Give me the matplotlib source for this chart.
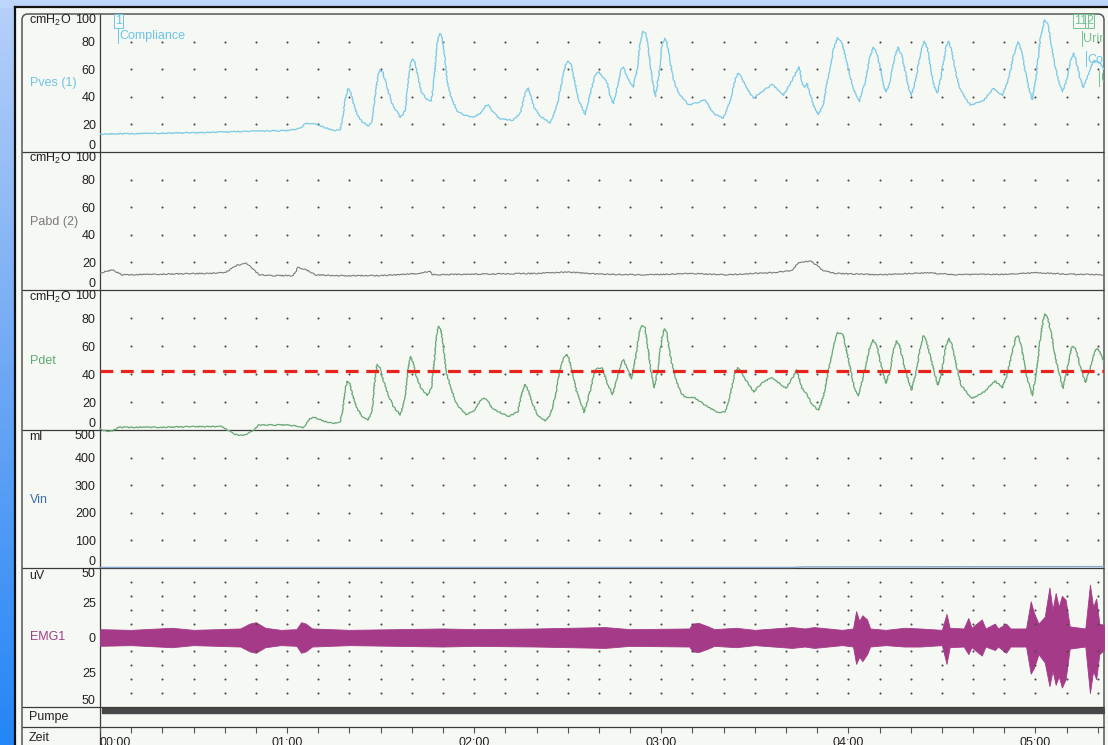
import numpy as np
import matplotlib.pyplot as plt
from matplotlib.colors import LinearSegmentedColormap
from matplotlib.patches import FancyBboxPatch

plt.rcParams['font.family'] = ['Liberation Sans', 'DejaVu Sans']
plt.rcParams['font.size'] = 9

# ---- recording, time in seconds ----
t_end = 322

pves_t = [0, 16, 32, 48, 60, 64, 66, 67.4, 69, 70.6, 74.8, 77, 77.8, 78.6, 79.6, 80.3, 81.2, 82.5, 84, 86,
          87.2, 88.2, 89.2, 89.9, 90.7, 92, 93.5, 96.3, 97.9, 98.9, 99.6, 100.2, 101, 102, 103, 104.9,
          106.3, 107.2, 108.1, 108.8, 109.6, 110.5, 111.5, 112.5, 114.5, 116.5, 119.7, 121.9, 123.5,
          124.5, 126, 128.3, 132.5, 134.8, 136.3, 137.3, 138.2, 139.3, 141.2, 144.4, 146.5, 148.2,
          149.4, 150.2, 151, 152.2, 153.5, 155.6, 157.2, 158.5, 159.8, 161, 162.7, 163.7, 164.6, 166,
          167.2, 167.9, 169, 171, 172.3, 173.3, 174.2, 175.1, 176, 177, 178.1, 179.2, 180.2, 181,
          181.8, 182.8, 184, 185.5, 188.7, 191.9, 194.1, 196.7, 199.9, 202.2, 203.8, 204.7, 205.7,
          207, 209.5, 211.8, 215.6, 219.1, 221.5, 223.3, 224.3, 225.2, 225.9, 226.8, 227.8, 228.8,
          230.4, 232, 233.6, 235.3, 236.5, 237.8, 238.8, 240, 241.8, 243.5, 245.3, 246.8, 248, 249.1,
          250.3, 251.3, 252.2, 253.4, 255, 256, 257.1, 258.3, 259.3, 260.2, 261.6, 263.2, 264.4,
          265.4, 266.3, 267.5, 268.6, 269.8, 271.2, 272.1, 273.1, 274.3, 275.5, 276.6, 279.1, 283.3,
          286.5, 289.4, 291.3, 293, 294.5, 295.6, 296.8, 298, 299, 300.2, 301.6, 302.9, 303.9, 305,
          306.3, 307.6, 308.7, 310, 311.3, 312.2, 313.1, 314.2, 315.4, 317.3, 318.6, 320.9, 321.8]
pves = [13, 13.5, 14, 15, 15.5, 17, 20.5, 21, 20.5, 19, 15.5, 16, 24, 38, 45.8, 44, 36, 27, 22, 19,
        22, 40, 56, 59.7, 57.5, 48, 36, 25, 30, 52, 64, 67.4, 65, 54, 44, 38,
        37, 55, 78, 86, 84, 70, 50, 40, 30, 27, 25, 28, 33,
        34.4, 29, 24, 23, 28, 42, 46.5, 40, 32, 26, 21, 33, 52,
        63, 65.7, 63.5, 52, 38, 27, 42, 54, 58.5, 55, 50, 40, 35, 48,
        60, 61.6, 55, 47, 60, 80, 87.4, 86, 72, 55, 40, 55, 76, 82.6,
        80, 66, 52, 43, 34, 36, 38, 28, 24.3, 38, 53, 57.3, 54,
        48, 39, 43, 49, 41, 50, 58, 61.6, 50, 47, 49.5, 42, 34,
        27, 35, 55, 75, 82.8, 80.5, 72, 60, 45, 36.4, 50, 68, 76, 72,
        60, 48, 43.6, 52, 70, 76, 70, 58, 47, 41, 52, 72, 80.4,
        75, 62, 48, 42.9, 55, 75, 80.4, 74, 60, 48, 42.6, 34, 37,
        46, 41, 52, 70, 79.7, 72, 58, 45, 38, 55, 82, 95.8, 93, 80,
        62, 50, 43.6, 52, 66, 71.8, 66, 54, 46.7, 58, 66.4, 64, 60]

pabd_t = [0, 4, 7, 20, 35, 40, 44, 47, 51, 55, 62, 63.5, 66, 69, 75, 90, 95, 102, 106, 106.5, 120,
          140, 150, 160, 175, 190, 200, 215, 222, 224, 228, 232, 236, 250, 265, 275, 290, 300, 310, 322]
pabd = [12.3, 14.7, 11, 11.5, 12, 12.5, 18, 19.3, 11, 10.4, 10.4, 16.4, 15, 11, 10.4, 10.4, 11, 12,
        13.6, 11, 11.5, 12, 13, 11.5, 11, 12, 11, 12.5, 14, 20, 21, 14, 12, 11, 12.5, 11, 11.5, 12.5,
        11.5, 11]

pdet_t = [0, 2, 4, 6, 20, 30, 39, 41, 43, 46, 48, 49.5, 51, 60, 64, 65, 67, 68.3, 70, 72, 74.8, 77,
          77.8, 78.6, 79.3, 80.1, 81, 82.3, 84, 86, 87.3, 88.2, 88.9, 89.7, 90.8, 92.3, 94, 96.3,
          97.8, 98.8, 99.5, 100.3, 101.5, 103, 104.9, 106.3, 107.3, 108, 108.6, 109.3, 110.2, 111.2,
          112.5, 114.5, 117.4, 120, 122, 123.2, 124.5, 126, 131, 134, 135.4, 136.4, 137.4, 138.5,
          140.5, 142.8, 144.4, 146, 147.6, 148.8, 149.5, 150.3, 151.5, 152.8, 155.3, 157.2, 158.5,
          159.3, 161, 162.8, 164.4, 166, 167.3, 167.9, 169, 170.4, 171.8, 173, 173.9, 174.8, 175.8,
          176.8, 177.8, 179, 180.2, 181, 181.8, 183, 184.5, 186, 187.4, 190.8, 194.8, 198.3, 200.5,
          202, 203.6, 204.5, 205.5, 206.8, 209.7, 212, 215.3, 217.5, 220, 222, 223.4, 224.4, 225.2,
          226.9, 228.5, 230.4, 232, 233.6, 235.4, 236.6, 238.4, 239.5, 240.8, 242, 243.2, 244.6,
          246.6, 248, 249.2, 250.5, 252, 253.3, 254.6, 255.5, 256.5, 258.3, 260.3, 261.8, 263.2,
          264.1, 265, 266.8, 268.7, 270, 271.3, 272.2, 273.2, 274.8, 276.2, 279.6, 283.6, 287.1,
          289.4, 291, 292.6, 293.7, 294.3, 295.3, 297, 299, 300.2, 301.6, 302.5, 303.1, 304, 305.3,
          306.8, 308.8, 310.3, 311.5, 311.9, 313, 314.4, 316, 317.6, 319, 319.7, 320.6, 321.8]
pdet = [1, -1, -0.5, 2, 2, 2.4, 2.4, 0, -3, -4, -2, 0, 3.6, 3.6, 2.5, 1.2, 7.5, 9.2, 8, 6, 4.8, 5.5,
        14, 28, 35, 33, 25, 16, 10, 7.2, 14, 37, 47, 45, 36, 26, 17, 10.8,
        22, 43, 52.5, 49, 38, 30, 24.6, 30, 52, 69, 74, 72, 58, 40,
        30, 18, 10.8, 14, 21, 23, 20, 15, 9.6, 13, 27, 32.5, 28, 20,
        10, 6.7, 10.5, 24, 43, 52, 54.1, 52, 42, 28, 12.5, 28, 40,
        44, 44.5, 33, 25.4, 38, 49, 50.5, 44, 36.4, 52, 70, 74.5, 73, 58,
        40, 30.2, 45, 66, 72.3, 69, 52, 36.9, 28, 23.7, 23, 16.5, 12.5, 13,
        24, 40, 44.5, 42, 36.9, 27.3, 33, 37.4, 34, 29.7, 37, 42.9, 36, 29.7,
        24.9, 18, 14, 24, 42, 62, 69.7, 68, 56, 42, 30, 24.4, 36,
        57, 64.4, 60, 46, 33.3, 42, 58, 63.7, 60, 42, 28.5, 42, 60,
        67.3, 64, 48, 32.1, 42, 60, 65.6, 61, 45, 32, 22.5, 27.3, 35,
        30.2, 40, 56, 66, 67.5, 62, 40, 24.4, 40, 66, 78, 82.9, 80, 66,
        48, 29.7, 45, 58, 59.6, 58, 45, 34, 44, 56, 58.4, 56, 48.9]
pdet_limit = 42

vin_t = [0, 222, 226, 322]
vin = [2, 2, 4, 5]

# EMG envelope (uV)
emg_t = [0, 10, 23, 30, 45, 48, 50, 53, 58, 63, 64.5, 66, 68, 80, 110, 120, 140, 162, 170, 189, 190,
         192, 195, 197, 204, 210, 222, 226, 229, 238, 241.5, 242.5, 243.5, 244.5, 246, 247, 252, 258,
         263, 270, 271.5, 272.5, 277, 278.5, 279.5, 282.8, 284, 287, 288, 290.6, 292, 297, 298.5,
         299.5, 301, 303, 304.5, 305.5, 306.5, 307.5, 308.5, 309.7, 311, 316, 317.5, 318.5, 319.5,
         320.5, 322]
emg_hi = [6, 5.5, 7, 5.5, 6.5, 10, 11, 7, 5.5, 6, 11, 10, 6.5, 5.5, 6.5, 6, 6.5, 7.5, 6, 6.5, 10,
          10.5, 8, 6, 7, 5.5, 7.5, 6.5, 7.5, 5.5, 6.5, 19, 12, 16, 13, 6.5, 5.5, 7,
          6.5, 5.5, 17, 7, 6.5, 14, 7, 13, 6.5, 10, 6.5, 10, 6.5, 6.5, 26,
          18, 10, 15, 36, 20, 32, 22, 30, 27, 8, 6.5, 38, 22, 28,
          10, 9]
emg_lo = [-6, -5.5, -7, -5.5, -6.5, -10, -11, -7, -5.5, -6, -11, -10, -6.5, -5.5, -6.5, -6, -6.5, -7.5,
          -6, -6.5, -10, -10.5, -8, -6, -7, -5.5, -7.5, -6.5, -7.5, -5.5, -6.5, -19, -14, -17, -12,
          -6.5, -5.5, -6.5, -6.5, -5.5, -19, -7, -6.5, -12, -7, -13, -6.5, -9, -6.5, -11, -6.5, -6.5,
          -26, -22, -12, -18, -35, -24, -34, -28, -36, -30, -8, -6.5, -40, -24, -30,
          -12, -9]

pump_on = [(0.5, 321.5)]

# event markers and their notes
mark_t = [5.8, 314.6, 317.3]
mark_id = ['1', '11', '2']
mark_col = ['#6cc4e4', '#76c094', '#76c094']
note_t = [5.8, 314.8, 316.3, 320.5]
note_row = [84, 82, 67, 53]
note_txt = ['Compliance', 'Urinfluss', 'Compliance', 'Urinfluss']
note_col = ['#6cc4e4', '#76c094', '#6cc4e4', '#76c094']

minutes = [0, 60, 120, 180, 240, 300]
minute_lbl = ['00:00', '01:00', '02:00', '03:00', '04:00', '05:00']

# ---- page layout in pixels ----
W, H = 1108, 745
X0, X1 = 100, 1104
fig = plt.figure(figsize=(W / 100, H / 100), dpi=100)

bg = fig.add_axes([0, 0, 1, 1])
bg.set_xlim(0, W)
bg.set_ylim(H, 0)
bg.axis('off')

blues = LinearSegmentedColormap.from_list('side', ['#b7d0f9', '#6ea8f4', '#2486f7'])
bg.imshow(np.linspace(0, 1, 200).reshape(-1, 1), cmap=blues, aspect='auto',
          extent=(0, 16, H, 0), zorder=0)
bg.add_patch(plt.Rectangle((0, 0), W, 7, color='#bdd5fb', zorder=0))
bg.add_patch(plt.Rectangle((15, 7), W, H, color='#f6f8f4', zorder=1))
bg.plot([15, W], [7, 7], color='#111', lw=1.6, zorder=2)
bg.plot([15, 15], [7, H], color='#111', lw=1.6, zorder=2)
bg.add_patch(FancyBboxPatch((22, 14), X1 - 22, 760, boxstyle='round,pad=0,rounding_size=6',
                            fc='none', ec='#555', lw=1.1, zorder=3))
bg.hlines([152, 290, 430, 568, 707, 727], 22, X1, color='#3a3a3a', lw=0.9, zorder=3)
bg.vlines(X0, 14, H, color='#3a3a3a', lw=0.9, zorder=3)

unit_kw = dict(ha='left', va='center', color='#222', zorder=4)
bg.text(29, 20, r'cmH$_\mathregular{2}$O', **unit_kw)
bg.text(29, 158, r'cmH$_\mathregular{2}$O', **unit_kw)
bg.text(29, 297, r'cmH$_\mathregular{2}$O', **unit_kw)
bg.text(29, 437, 'ml', **unit_kw)
bg.text(29, 576, 'uV', **unit_kw)
bg.text(29, 717, 'Pumpe', **unit_kw)
bg.text(29, 738, 'Zeit', **unit_kw)
bg.text(30, 83, 'Pves (1)', ha='left', va='center', color='#6cc4e4')
bg.text(30, 222, 'Pabd (2)', ha='left', va='center', color='#7a7a7a')
bg.text(30, 361, 'Pdet', ha='left', va='center', color='#5fa972')
bg.text(30, 500, 'Vin', ha='left', va='center', color='#3b6ea8')
bg.text(30, 637, 'EMG1', ha='left', va='center', color='#a13d86')


def panel(top, bottom, ylim, ticks, labels):
    ax = fig.add_axes([X0 / W, 1 - bottom / H, (X1 - X0) / W, (bottom - top) / H])
    ax.set_facecolor('none')
    for s in ax.spines.values():
        s.set_visible(False)
    ax.set_xlim(0, t_end)
    ax.set_ylim(*ylim)
    ax.set_xticks([])
    ax.set_yticks(ticks, labels)
    ax.tick_params(axis='y', length=0, pad=3, labelsize=9, labelcolor='#222')
    tl = ax.get_yticklabels()
    tl[0].set_va('bottom')
    tl[-1].set_va('top')
    return ax


def dots(ax, levels):
    tt, yy = np.meshgrid(np.arange(10, t_end, 10), levels)
    ax.plot(tt.ravel(), yy.ravel(), ls='none', marker='o', ms=1.5, mew=0, color='#4a4a4a')


press_ticks = [0, 20, 40, 60, 80, 100]
press_lbls = [str(v) for v in press_ticks]

ax1 = panel(14, 152, (0, 100), press_ticks, press_lbls)
dots(ax1, [20, 40, 60, 80])
ln, = ax1.plot(pves_t, pves, color='#7ccae7', lw=0.9)
ln.set_sketch_params(0.5, 3, 6)
for t, lab, c in zip(mark_t, mark_id, mark_col):
    ax1.text(t, 99, lab, ha='center', va='top', color=c, fontsize=9, clip_on=True,
             bbox=dict(boxstyle='square,pad=0.08', fc='none', ec=c, lw=0.7))
for t, row, txt, c in zip(note_t, note_row, note_txt, note_col):
    ax1.plot([t, t], [row - 5, row + 6], color=c, lw=0.7)
    ax1.text(t + 0.5, row, txt, ha='left', va='center', color=c, fontsize=9, clip_on=True)

ax2 = panel(152, 290, (0, 100), press_ticks, press_lbls)
dots(ax2, [20, 40, 60, 80])
ln, = ax2.plot(pabd_t, pabd, color='#7d7d7d', lw=0.8)
ln.set_sketch_params(0.5, 3, 6)

ax3 = panel(290, 430, (0, 100), press_ticks, press_lbls)
dots(ax3, [20, 40, 60, 80])
ln, = ax3.plot(pdet_t, pdet, color='#68a878', lw=0.9, clip_on=False)
ln.set_sketch_params(0.5, 3, 6)
ax3.axhline(pdet_limit, color='#e8231e', lw=2.3, dashes=(4, 2.4))

ax4 = panel(430, 568, (0, 500), [0, 100, 200, 300, 400, 500],
            ['0', '100', '200', '300', '400', '500'])
dots(ax4, [100, 200, 300, 400])
ax4.plot(vin_t, vin, color='#86a6cc', lw=1.0, clip_on=False, zorder=5)

ax5 = panel(568, 707, (-50, 50), [-50, -25, 0, 25, 50], ['50', '25', '0', '25', '50'])
dots(ax5, [-40, -30, -20, -10, 10, 20, 30, 40])
fb = ax5.fill_between(emg_t, emg_lo, emg_hi, color='#a53b88', lw=0.6)
fb.set_sketch_params(1.0, 1.5, 20)

ax6 = fig.add_axes([X0 / W, 1 - 727 / H, (X1 - X0) / W, 20 / H])
ax6.set_facecolor('none')
for s in ax6.spines.values():
    s.set_visible(False)
ax6.set_xlim(0, t_end)
ax6.set_ylim(0, 1)
ax6.set_yticks([])
ax6.broken_barh(pump_on, (0.68, 0.28), color='#474747')
ax6.set_xticks(minutes, minute_lbl)
ax6.set_xticks(np.arange(0, t_end, 10), minor=True)
ax6.tick_params(axis='x', which='both', direction='out', length=4.5, width=0.8,
                color='#555', labelsize=9, labelcolor='#222', pad=3)
ax6.get_xticklabels()[0].set_ha('left')

fig.savefig('out.png', dpi=100)
